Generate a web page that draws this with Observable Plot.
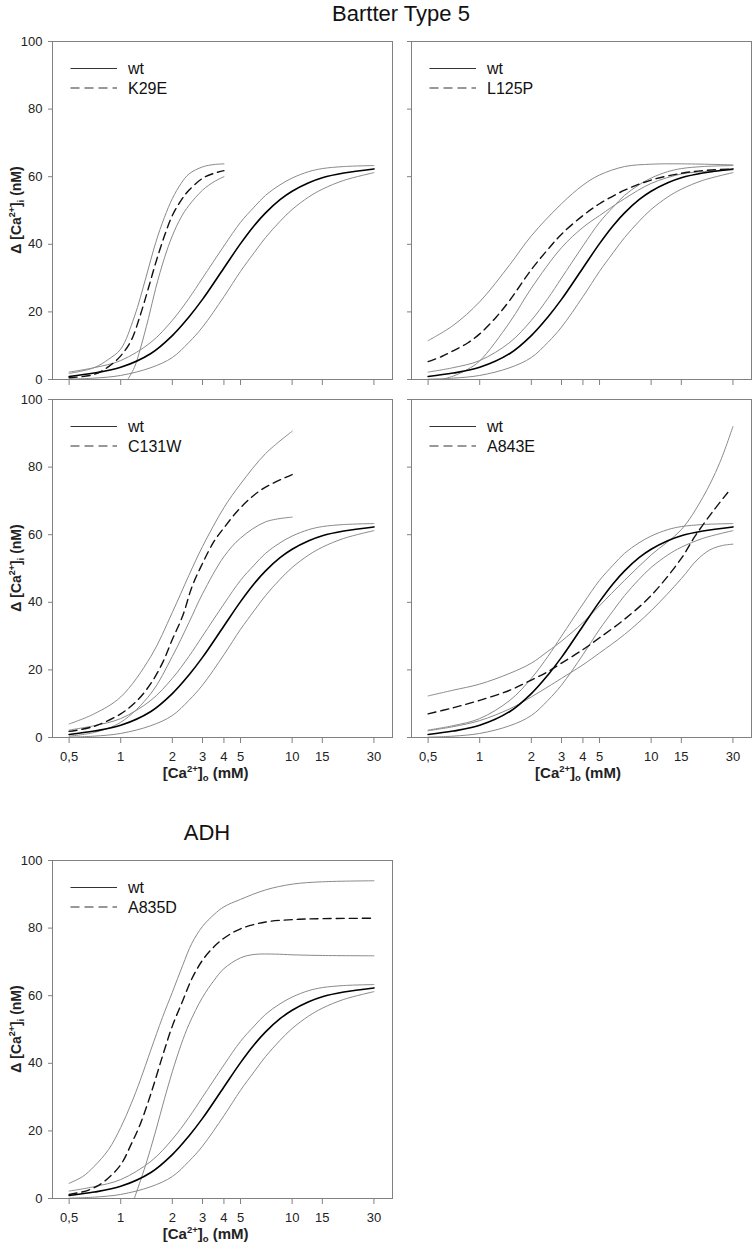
<!DOCTYPE html>
<html><head><meta charset="utf-8">
<script src="https://cdn.jsdelivr.net/npm/d3@7"></script>
<script src="https://cdn.jsdelivr.net/npm/@observablehq/plot@0.6"></script>
<style>
html,body{margin:0;padding:0;background:#fff;overflow:hidden}
#page{position:relative;width:755px;height:1250px;font-family:"Liberation Sans",Arial,sans-serif;overflow:hidden}
.title{position:absolute;font-size:22px;line-height:22px;text-align:center;color:#111;white-space:nowrap}
</style></head><body><div id="page">
<div class="title" style="left:301px;top:3px;width:200px">Bartter Type 5</div>
<div class="title" style="left:107px;top:822px;width:200px">ADH</div>
</div>
<script>
// ---------- data ----------
const xTickValues = [0.5, 1, 2, 3, 4, 5, 10, 15, 30];
const yTickValues = [0, 20, 40, 60, 80, 100];

// wild type (same fit in every panel)
const wtX     = [0.5, 0.7, 1,   1.5, 2,    2.5,  3,    4,    5,    6,    7,    8.5,  10,   12.5, 15,   20,   30];
const wtFit   = [0.9, 1.9, 3.6, 7.7, 13,   18.5, 23.7, 33,   40.2, 45.5, 49.3, 53.2, 55.7, 58.2, 59.7, 61.1, 62.3];
const wtUpper = [2.2, 3.5, 5.6, 11,  17.5, 24,   30,   39.5, 46.5, 51,   54.5, 57.6, 59.6, 61.5, 62.4, 63,   63.3];
const wtLower = [0.1, 0.4, 1.2, 3.5, 6.5,  11,   15.5, 24.5, 32,   37.5, 42,   46.8, 50.3, 54,   56.3, 58.9, 61.2];

// K29E
const k29eX      = [0.5, 0.7, 0.85, 1, 1.15, 1.3, 1.45, 1.6, 1.8, 2, 2.25, 2.5, 3, 3.5, 4];
const k29eFit    = [0.5, 1.5, 3.8,  7, 11.5, 19,  27,   34.5, 42.5, 48.5, 53, 56, 59.5, 61, 61.8];
const k29eUpperX = [0.5, 0.7, 0.85, 1, 1.2, 1.4, 1.6, 1.8, 2, 2.25, 2.5, 3, 3.5, 4];
const k29eUpper  = [1.8, 3.5, 6,    9, 18.5, 30, 40.5, 48, 53.5, 58, 60.8, 62.9, 63.6, 63.8];
const k29eLowerX = [1.1, 1.2, 1.3, 1.45, 1.6, 1.8, 2, 2.25, 2.5, 3, 3.5, 4];
const k29eLower  = [0,   3.5, 9,   18,   27,  36,  42.5, 48, 51.5, 56, 58.5, 60];

// L125P
const l125pX      = [0.5, 0.6, 0.7, 0.85, 1,    1.25, 1.5,  2,    2.5,  3,  4,    5,  7,  10, 15, 20,   30];
const l125pFit    = [5.3, 6.8, 8.5, 10.8, 13.5, 18.5, 23.5, 32.5, 38.5, 43, 48.5, 52, 56, 59, 61, 61.8, 62.3];
const l125pUpperX = [0.5, 0.7, 1,  1.5, 2,    3,  4,    5,    7,  10,   15,   30];
const l125pUpper  = [11.5, 16, 23, 34,  42.5, 52, 57.5, 60.5, 63, 63.7, 63.8, 63.5];
const l125pLowerX = [0.6, 0.7, 0.85, 1,   1.5, 2,  3,  4,  5,    7,    10, 15,   20,   30];
const l125pLower  = [0,   1,   3,    5.5, 17,  27, 39, 45, 48.5, 53.5, 58, 60.8, 61.5, 62];

// C131W
const c131wX     = [0.5, 0.7, 1, 1.25, 1.5, 1.75, 2,  2.3, 2.6,  3,    3.5, 4,  5,  6.7,  10];
const c131wFit   = [1.8, 3.3, 7, 11,   16,  22,   29, 36,  44.5, 51.5, 58,  62, 68, 73.5, 77.8];
const c131wBandX = [0.5, 0.7, 1,   1.5, 2,  2.5, 3,    4,    5,  7,    10];
const c131wUpper = [4,   7,   12,  24,  37, 48,  56.5, 68,   75, 84,   90.6];
const c131wLower = [0.4, 1.5, 4.5, 13,  24, 34,  42.5, 53.5, 59, 63.8, 65.2];

// A843E
const a843eX      = [0.5, 0.7, 1,  1.5, 2,  2.5,  3,  4,  5,    7,  10, 15, 18,   23, 28];
const a843eFit    = [7,   8.8, 11, 14,  17, 19.5, 22, 26, 29.5, 35, 42, 53, 59.5, 67, 72.5];
const a843eUpperX = [0.5,  0.7, 1,    1.5, 2,  2.5,  3,    4,  5,  7,    10, 15,   20, 25, 30];
const a843eUpper  = [12.3, 14,  15.8, 19,  22, 25.5, 28.5, 34, 39, 46.5, 54, 61.5, 71, 81, 92];
const a843eLowerX = [0.5, 0.7, 1, 1.5, 2,  2.5, 3,    4,    5,  7,    10,   15, 18.5, 22,   26,   30];
const a843eLower  = [2,   3.2, 5, 8.5, 12, 15,  17.5, 21.5, 25, 30.5, 37.5, 47, 52.5, 55.5, 56.8, 57.2];

// A835D
const a835dX      = [0.5, 0.65, 0.8, 1,  1.15, 1.3, 1.5, 1.75, 2,  2.3,  2.6, 3,    3.5,  4,  5,    7,    10,   15,   30];
const a835dFit    = [1.2, 2.5,  5,   10, 16,   22,  31,  42,   51, 58.5, 65,  70.5, 74.5, 77, 79.8, 81.8, 82.5, 82.8, 82.9];
const a835dUpperX = [0.5, 0.6, 0.7, 0.85, 1,  1.15, 1.3, 1.5, 1.75, 2,  2.3, 2.6,  3,    3.5, 4,    5,    7,    10, 15,   30];
const a835dUpper  = [4.5, 6.5, 9.5, 14.5, 21, 28,   35,  44,  53.5, 61, 69,  75.5, 80.5, 84,  86.3, 88.5, 91.3, 93, 93.7, 94];
const a835dLowerX = [1.2, 1.4, 1.6, 1.8,  2,    2.25, 2.5,  3,    3.5,  4,  5,    6,    8,    10,   15,   30];
const a835dLower  = [0,   10,  20,  29.5, 37.5, 45.5, 51.5, 59.5, 64.5, 68, 71.2, 72.2, 72.3, 72.1, 71.9, 71.8];

// ---------- drawing ----------
const pts = (xs, ys) => xs.map((x, i) => ({x, y: ys[i]}));
const fmtX = d => d === 0.5 ? "0,5" : String(d);
const PLOT_H = 338, MT = 12;

const panels = [
  {name: "K29E", fitX: k29eX, fit: k29eFit, upX: k29eUpperX, up: k29eUpper, loX: k29eLowerX, lo: k29eLower,
   left: 0, top: 29, ml: 52, mr: 8, mb: 8, xLab: false, yLab: true},
  {name: "L125P", fitX: l125pX, fit: l125pFit, upX: l125pUpperX, up: l125pUpper, loX: l125pLowerX, lo: l125pLower,
   left: 400.5, top: 29, ml: 10, mr: 4, mb: 8, xLab: false, yLab: false},
  {name: "C131W", fitX: c131wX, fit: c131wFit, upX: c131wBandX, up: c131wUpper, loX: c131wBandX, lo: c131wLower,
   left: 0, top: 387.3, ml: 52, mr: 8, mb: 50, xLab: true, yLab: true, xTitleDx: 153.7},
  {name: "A843E", fitX: a843eX, fit: a843eFit, upX: a843eUpperX, up: a843eUpper, loX: a843eLowerX, lo: a843eLower,
   left: 400.5, top: 387.3, ml: 10, mr: 4, mb: 50, xLab: true, yLab: false, xTitleDx: 167},
  {name: "A835D", fitX: a835dX, fit: a835dFit, upX: a835dUpperX, up: a835dUpper, loX: a835dLowerX, lo: a835dLower,
   left: 0, top: 848, ml: 52, mr: 8, mb: 50, xLab: true, yLab: true, xTitleDx: 153.7}
];

const page = document.getElementById("page");
const CURVE = "catmull-rom";
const thin = {x: "x", y: "y", curve: CURVE, stroke: "#8a8a8a", strokeWidth: 1};

for (const p of panels) {
  const width = p.ml + 340 + p.mr;
  const height = MT + PLOT_H + p.mb;
  const svgEl = Plot.plot({
    width, height,
    marginLeft: p.ml, marginRight: p.mr, marginTop: MT, marginBottom: p.mb,
    style: {fontFamily: '"Liberation Sans", Arial, sans-serif', fontSize: "13px", background: "transparent", color: "#222", overflow: "visible"},
    x: {type: "log", domain: [0.4, 38.5], ticks: xTickValues, tickFormat: p.xLab ? fmtX : () => "", tickSize: 6, tickPadding: 8, label: null},
    y: {domain: [0, 100], ticks: yTickValues, tickFormat: p.yLab ? d => String(d) : () => "", tickSize: 4, tickPadding: 6, label: null},
    marks: [
      Plot.line(pts(wtX, wtUpper), thin),
      Plot.line(pts(wtX, wtLower), thin),
      Plot.line(pts(p.upX, p.up), thin),
      Plot.line(pts(p.loX, p.lo), thin),
      Plot.line(pts(wtX, wtFit), {x: "x", y: "y", curve: CURVE, stroke: "#000", strokeWidth: 1.6}),
      Plot.line(pts(p.fitX, p.fit), {x: "x", y: "y", curve: CURVE, stroke: "#111", strokeWidth: 1.4, strokeDasharray: "8,5"}),
      Plot.frame({stroke: "#808080", strokeWidth: 1})
    ]
  });
  svgEl.style.position = "absolute";
  svgEl.style.left = p.left + "px";
  svgEl.style.top = p.top + "px";
  page.appendChild(svgEl);

  const svg = d3.select(svgEl);
  svg.selectAll('g[aria-label^="x-axis"] path, g[aria-label^="y-axis"] path, g[aria-label^="x-axis"] line, g[aria-label^="y-axis"] line')
    .attr("stroke", "#808080");

  // legend
  const fl = p.ml, ft = MT;
  const lg = svg.append("g").attr("aria-label", "legend").attr("text-anchor", "start");
  const rows = [{label: "wt", dash: null}, {label: p.name, dash: "9,5"}];
  rows.forEach((r, i) => {
    const yy = ft + 27.5 + i * 19.5;
    const ln = lg.append("line").attr("x1", fl + 18.5).attr("x2", fl + 65).attr("y1", yy).attr("y2", yy)
      .attr("stroke", "#333").attr("stroke-width", 1.2);
    if (r.dash) ln.attr("stroke-dasharray", r.dash);
    lg.append("text").attr("x", fl + 76).attr("y", yy).attr("dy", "0.36em").attr("text-anchor", "start")
      .attr("font-size", 16).attr("fill", "#111").text(r.label);
  });

  // y title
  if (p.yLab) {
    const t = svg.append("text")
      .attr("transform", `translate(20.5,${MT + PLOT_H / 2}) rotate(-90)`)
      .attr("text-anchor", "middle").attr("font-weight", "bold").attr("font-size", 14).attr("fill", "#222");
    t.append("tspan").text("Δ [Ca");
    t.append("tspan").attr("font-size", 9).attr("dy", -6).text("2+");
    t.append("tspan").attr("dy", 6).text("]");
    t.append("tspan").attr("font-size", 9).attr("dy", 3).text("i");
    t.append("tspan").attr("dy", -3).text(" (nM)");
  }
  // x title
  if (p.xLab) {
    const t = svg.append("text")
      .attr("x", p.ml + p.xTitleDx).attr("y", MT + PLOT_H + 41)
      .attr("text-anchor", "middle").attr("font-weight", "bold").attr("font-size", 15).attr("fill", "#222");
    t.append("tspan").text("[Ca");
    t.append("tspan").attr("font-size", 9.5).attr("dy", -6.5).text("2+");
    t.append("tspan").attr("dy", 6.5).text("]");
    t.append("tspan").attr("font-size", 9.5).attr("dy", 3).text("o");
    t.append("tspan").attr("dy", -3).text(" (mM)");
  }
}
</script>
</body></html>
